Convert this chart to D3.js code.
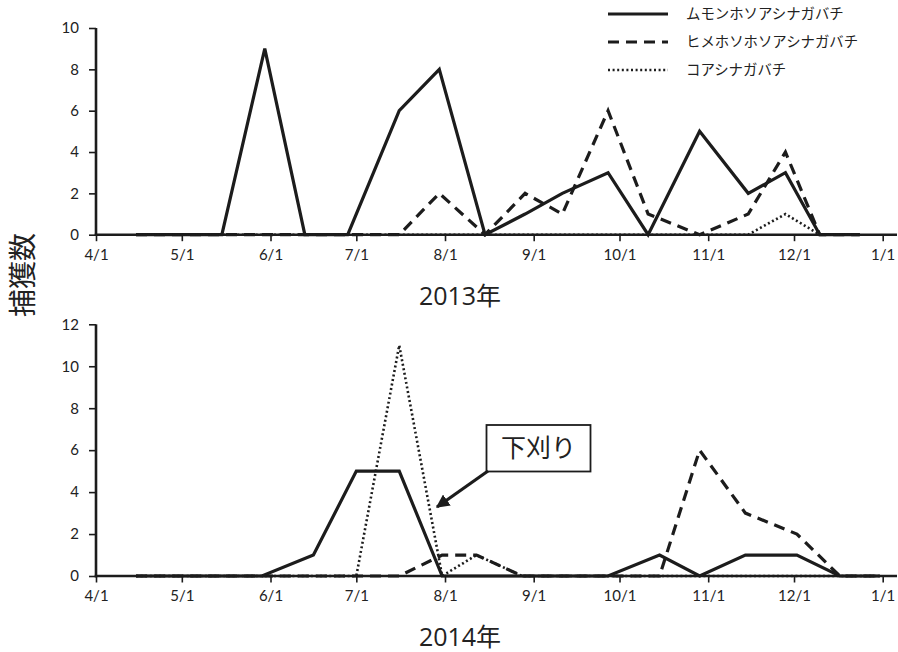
<!DOCTYPE html>
<html><head><meta charset="utf-8">
<script src="https://cdn.jsdelivr.net/npm/d3@7"></script>
<style>
body{margin:0;background:#fff;}
svg{display:block;}
</style></head><body>
<svg id="c" width="898" height="652" xmlns="http://www.w3.org/2000/svg"></svg>
<script>
// ---------- data ----------
const seriesNames = ["ムモンホソアシナガバチ","ヒメホソホソアシナガバチ","コアシナガバチ"];
const dates2013 = ["2013-04-15","2013-04-30","2013-05-15","2013-05-30","2013-06-13","2013-06-28","2013-07-16","2013-07-30","2013-08-15","2013-08-29","2013-09-11","2013-09-27","2013-10-11","2013-10-29","2013-11-15","2013-11-28","2013-12-10","2013-12-24"];
const mumon2013 = [0,0,0,9,0,0,6,8,0,1,2,3,0,5,2,3,0,0];
const hime2013  = [0,0,0,0,0,0,0,2,0,2,1,6,1,0,1,4,0,0];
const koa2013   = [0,0,0,0,0,0,0,0,0,0,0,0,0,0,0,1,0,0];
const dates2014 = ["2014-04-15","2014-04-30","2014-05-15","2014-05-29","2014-06-16","2014-07-01","2014-07-16","2014-07-31","2014-08-12","2014-08-28","2014-09-12","2014-09-27","2014-10-15","2014-10-29","2014-11-14","2014-12-02","2014-12-17","2014-12-31"];
const mumon2014 = [0,0,0,0,1,5,5,0,0,0,0,0,1,0,1,1,0,0];
const hime2014  = [0,0,0,0,0,0,0,1,1,0,0,0,0,6,3,2,0,0];
const koa2014   = [0,0,0,0,0,0,11,0,1,0,0,0,0,0,0,0,0,0];
const yTicks2013 = [0,2,4,6,8,10];
const yTicks2014 = [0,2,4,6,8,10,12];
const yearLabels = ["2013年","2014年"];
const yLabel = "捕獲数";
const noteLabel = "下刈り";

// ---------- drawing ----------
const svg = d3.select("#c");
const ink = "#1c1c1c";
const txt = "#222";
const numFont = "Lato,'Open Sans',sans-serif";
const cjkFont = "'Noto Sans CJK JP',sans-serif";
const styles = [
  {dash:null, w:3.2},
  {dash:"11,7", w:3.2},
  {dash:"2,2.6", w:2.6}
];
const parse = d3.timeParse("%Y-%m-%d");
const fmt = d3.timeFormat("%-m/%-d");

function panel(year, dates, series, yMax, yTicks, top, bottom, yearLabel, labelY){
  const x = d3.scaleTime()
    .domain([parse(year+"-04-01"), parse((year+1)+"-01-06")])
    .range([96, 897]);
  const y = d3.scaleLinear().domain([0,yMax]).range([bottom, top]);
  const g = svg.append("g");
  const months = d3.timeMonth.range(parse(year+"-04-01"), parse((year+1)+"-01-02"));

  const xa = g.append("g").attr("transform",`translate(0,${bottom})`)
    .call(d3.axisBottom(x).tickValues(months).tickFormat(fmt)
      .tickSizeOuter(0).tickSizeInner(6.5).tickPadding(8));
  const ya = g.append("g").attr("transform",`translate(${x.range()[0]},0)`)
    .call(d3.axisLeft(y).tickValues(yTicks)
      .tickSizeOuter(0).tickSizeInner(7).tickPadding(10));
  [xa, ya].forEach(a=>{
    a.attr("color", ink);
    a.select(".domain").attr("stroke-width", 2.6);
    a.selectAll(".tick line").attr("stroke-width", 1.6);
    a.selectAll(".tick text").attr("font-family", numFont).attr("font-size", 15).attr("fill", txt);
  });
  xa.select(".domain").attr("d", `M${x.range()[0]-1.3},0H${x.range()[1]}`);
  ya.select(".domain").attr("d", `M0,${bottom - y(0) + 1.3 + y(0) - bottom}V${top - y(0) + y(0)}`)
    .attr("d", `M0,${bottom+1.3}V${top}`);

  const line = d3.line().x((d,i)=>x(parse(dates[i]))).y(d=>y(d));
  series.forEach((s,k)=>{
    g.append("path").datum(s).attr("d",line)
      .attr("fill","none").attr("stroke",ink)
      .attr("stroke-width",styles[k].w)
      .attr("stroke-linejoin","miter")
      .attr("stroke-dasharray",styles[k].dash);
  });
  g.append("text").attr("x",460).attr("y",labelY).attr("text-anchor","middle")
    .attr("font-family","'Open Sans','Noto Sans CJK JP',sans-serif").attr("font-size",25)
    .attr("fill",txt).text(yearLabel);
}

panel(2013, dates2013, [mumon2013,hime2013,koa2013], 10, yTicks2013, 28, 234.7, yearLabels[0], 305);
panel(2014, dates2014, [mumon2014,hime2014,koa2014], 12, yTicks2014, 324.3, 576, yearLabels[1], 646);

// y label
svg.append("text").attr("transform","translate(33,275) rotate(-90)")
  .attr("text-anchor","middle").attr("font-family",cjkFont)
  .attr("font-size",28).attr("fill",txt).text(yLabel);

// legend
const lg = svg.append("g");
seriesNames.forEach((n,i)=>{
  const yy = 14 + i*28;
  lg.append("line").attr("x1",608).attr("x2",668).attr("y1",yy).attr("y2",yy)
    .attr("stroke",ink).attr("stroke-width",styles[i].w).attr("stroke-dasharray",styles[i].dash);
  lg.append("text").attr("x",686).attr("y",yy+5).attr("font-family",cjkFont)
    .attr("font-size",14.4).attr("fill",txt).text(n);
});

// annotation
const ann = svg.append("g");
ann.append("rect").attr("x",486.5).attr("y",425).attr("width",104).attr("height",46.5)
  .attr("fill","#fff").attr("stroke",ink).attr("stroke-width",1.8);
ann.append("text").attr("x",538.5).attr("y",457).attr("text-anchor","middle")
  .attr("font-family",cjkFont).attr("font-size",25).attr("fill",txt).text(noteLabel);
svg.append("defs").append("marker").attr("id","ah").attr("viewBox","0 0 10 10")
  .attr("refX",9).attr("refY",5).attr("markerWidth",4.2).attr("markerHeight",4.2)
  .attr("orient","auto").attr("markerUnits","strokeWidth")
  .append("path").attr("d","M0,0L10,5L0,10z").attr("fill",ink);
ann.append("line").attr("x1",488).attr("y1",471).attr("x2",437).attr("y2",507)
  .attr("stroke",ink).attr("stroke-width",3.2).attr("marker-end","url(#ah)");
</script></body></html>
